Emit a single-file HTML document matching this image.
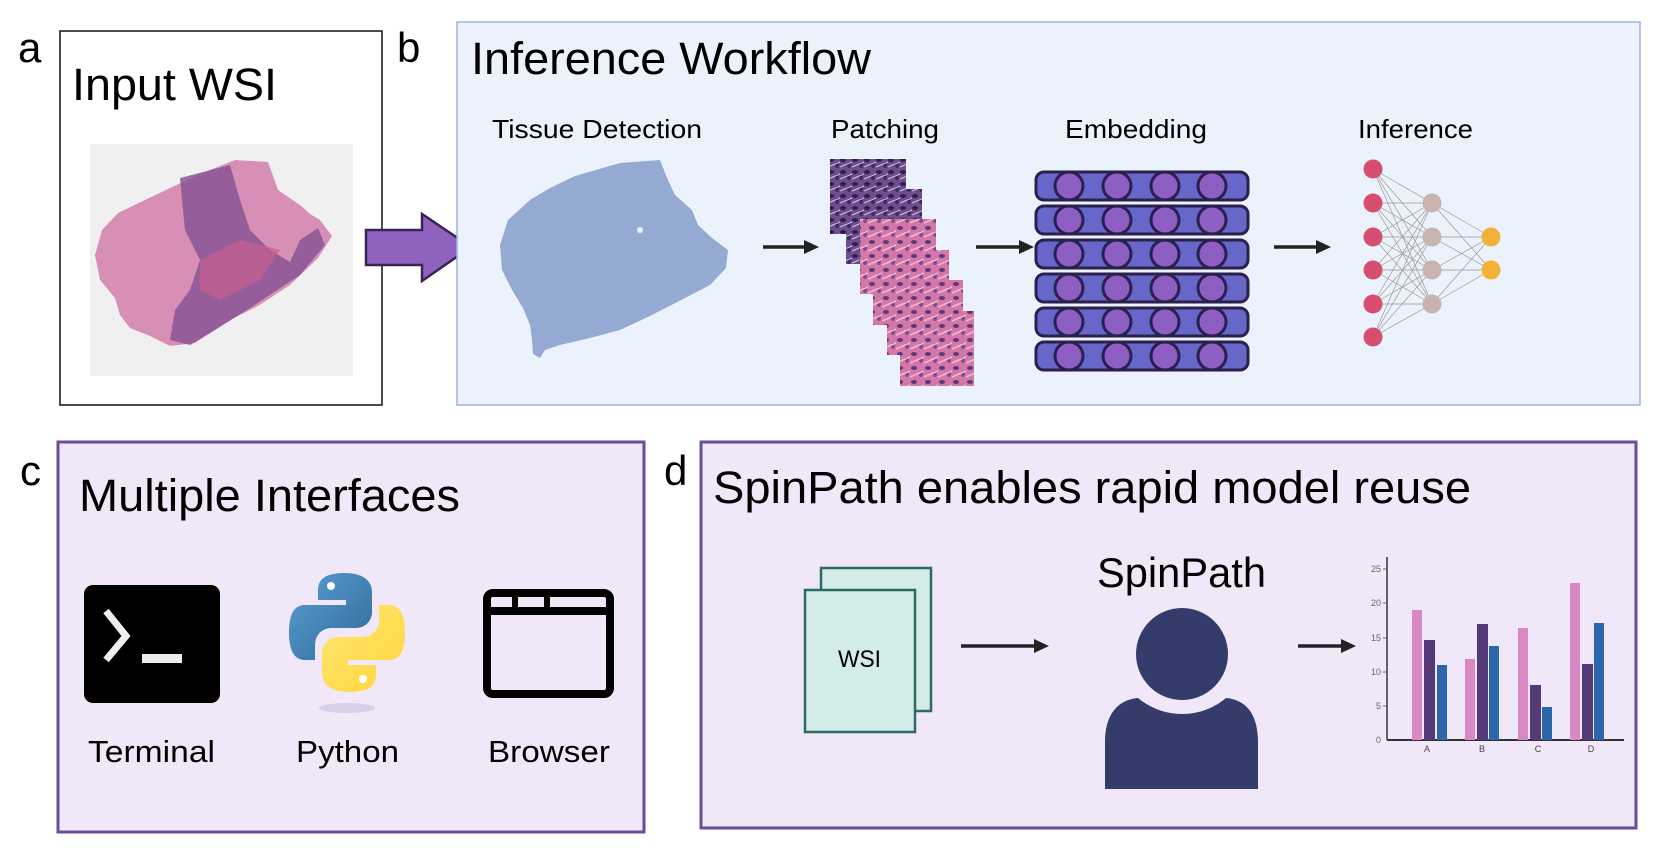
<!DOCTYPE html>
<html><head><meta charset="utf-8"><style>
html,body{margin:0;padding:0;background:#fff}
svg{display:block;font-family:"Liberation Sans",sans-serif}
</style></head><body>
<svg width="1661" height="855" viewBox="0 0 1661 855" xmlns="http://www.w3.org/2000/svg">
<defs>
<marker id="ah" markerWidth="16" markerHeight="16" refX="0" refY="8" orient="auto" markerUnits="userSpaceOnUse"><path d="M0,1 L15,8 L0,15 z" fill="#222"/></marker>
<linearGradient id="pyb" x1="0" y1="0" x2="1" y2="1"><stop offset="0" stop-color="#5a9fd4"/><stop offset="1" stop-color="#306998"/></linearGradient>
<linearGradient id="pyy" x1="0" y1="0" x2="1" y2="1"><stop offset="0" stop-color="#ffe873"/><stop offset="1" stop-color="#ffd43b"/></linearGradient>
<pattern id="tex" width="14" height="14" patternUnits="userSpaceOnUse"><rect width="14" height="14" fill="#d476a8"/><ellipse cx="4" cy="4" rx="3" ry="2" fill="#5a3a7a"/><ellipse cx="11" cy="10" rx="2" ry="3" fill="#7a4a8a"/><path d="M0,13 L14,7" stroke="#f0b8d0" stroke-width="1.5"/></pattern>
<pattern id="tex2" width="12" height="12" patternUnits="userSpaceOnUse"><rect width="12" height="12" fill="#6e4c8e"/><ellipse cx="3" cy="4" rx="3" ry="2" fill="#2e1f4a"/><ellipse cx="9" cy="9" rx="2" ry="3" fill="#3a2a5a"/><path d="M0,11 L12,6" stroke="#d8c8e8" stroke-width="1"/></pattern>
</defs>

<!-- panel a -->
<text x="18" y="62" font-size="42">a</text>
<rect x="60" y="31" width="322" height="374" fill="#fff" stroke="#111" stroke-width="1.5"/>
<text x="72" y="100" font-size="45" textLength="205" lengthAdjust="spacingAndGlyphs">Input WSI</text>
<rect x="90" y="144" width="263" height="232" fill="#f0f0f0"/>
<path d="M118,213 L170,188 L205,172 L235,160 L268,162 L278,190 L300,205 L310,214 L320,220 L332,236 L318,258 L290,285 L258,306 L230,320 L195,343 L170,346 L150,336 L130,328 L120,315 L115,298 L100,280 L95,255 L102,230 Z" fill="#d78fb6"/>
<path d="M180,178 L230,165 L240,200 L250,230 L270,250 L290,262 L300,240 L318,228 L325,245 L300,275 L250,308 L215,330 L190,345 L170,340 L175,310 L190,290 L200,260 L185,230 L182,200 Z" fill="#8a5595" opacity="0.85"/>
<path d="M200,260 L240,240 L280,250 L260,280 L220,300 L200,290 Z" fill="#c8608e" opacity="0.7"/>

<!-- big purple arrow -->
<path d="M366,230 L422,230 L422,214 L471,247 L422,281 L422,265 L366,265 Z" fill="#8e62be" stroke="#3b2257" stroke-width="2.5"/>

<!-- panel b -->
<text x="397" y="62" font-size="42">b</text>
<rect x="457" y="22" width="1183" height="383" fill="#ecf2fb" stroke="#9fb3dc" stroke-width="1.5"/>
<text x="471" y="74" font-size="45" textLength="400" lengthAdjust="spacingAndGlyphs">Inference Workflow</text>
<text x="492" y="138" font-size="26" textLength="210" lengthAdjust="spacingAndGlyphs">Tissue Detection</text>
<text x="831" y="138" font-size="26" textLength="108" lengthAdjust="spacingAndGlyphs">Patching</text>
<text x="1065" y="138" font-size="26" textLength="142" lengthAdjust="spacingAndGlyphs">Embedding</text>
<text x="1358" y="138" font-size="26" textLength="115" lengthAdjust="spacingAndGlyphs">Inference</text>

<path d="M575,176 L620,163 L660,160 L667,178 L675,195 L692,210 L698,225 L712,238 L728,250 L726,268 L710,285 L685,298 L652,315 L620,330 L590,338 L560,345 L545,350 L540,358 L533,354 L532,340 L530,325 L523,308 L512,290 L502,270 L500,245 L508,220 L530,200 L550,188 Z" fill="#95aad3"/>
<ellipse cx="640" cy="230" rx="3" ry="3" fill="#ecf2fb"/>

<line x1="763" y1="247" x2="804" y2="247" stroke="#222" stroke-width="3.5" marker-end="url(#ah)"/>

<!-- patches -->
<rect x="830" y="159" width="76" height="75" fill="url(#tex2)"/>
<rect x="846" y="189" width="76" height="75" fill="url(#tex2)"/>
<rect x="860" y="219" width="76" height="75" fill="url(#tex)"/>
<rect x="873" y="250" width="76" height="75" fill="url(#tex)"/>
<rect x="887" y="280" width="76" height="75" fill="url(#tex)"/>
<rect x="900" y="311" width="74" height="75" fill="url(#tex)"/>

<line x1="976" y1="247" x2="1019" y2="247" stroke="#222" stroke-width="3.5" marker-end="url(#ah)"/>

<!-- embedding -->
<g stroke="#2a1f4d" stroke-width="3">
<g id="row"><rect x="1036" y="172" width="212" height="28" rx="8" fill="#6667c8"/>
<ellipse cx="1069" cy="186" rx="14" ry="14" fill="#8d5fc2"/><ellipse cx="1117" cy="186" rx="14" ry="14" fill="#8d5fc2"/><ellipse cx="1165" cy="186" rx="14" ry="14" fill="#8d5fc2"/><ellipse cx="1212" cy="186" rx="14" ry="14" fill="#8d5fc2"/></g>
<use href="#row" y="34"/><use href="#row" y="68"/><use href="#row" y="102"/><use href="#row" y="136"/><use href="#row" y="170"/>
</g>

<line x1="1274" y1="247" x2="1316" y2="247" stroke="#222" stroke-width="3.5" marker-end="url(#ah)"/>

<!-- neural net -->
<g stroke="#999" stroke-width="0.7">
<line x1="1373" y1="169" x2="1432" y2="203"/><line x1="1373" y1="169" x2="1432" y2="237"/><line x1="1373" y1="169" x2="1432" y2="270"/><line x1="1373" y1="169" x2="1432" y2="304"/>
<line x1="1373" y1="203" x2="1432" y2="203"/><line x1="1373" y1="203" x2="1432" y2="237"/><line x1="1373" y1="203" x2="1432" y2="270"/><line x1="1373" y1="203" x2="1432" y2="304"/>
<line x1="1373" y1="237" x2="1432" y2="203"/><line x1="1373" y1="237" x2="1432" y2="237"/><line x1="1373" y1="237" x2="1432" y2="270"/><line x1="1373" y1="237" x2="1432" y2="304"/>
<line x1="1373" y1="270" x2="1432" y2="203"/><line x1="1373" y1="270" x2="1432" y2="237"/><line x1="1373" y1="270" x2="1432" y2="270"/><line x1="1373" y1="270" x2="1432" y2="304"/>
<line x1="1373" y1="304" x2="1432" y2="203"/><line x1="1373" y1="304" x2="1432" y2="237"/><line x1="1373" y1="304" x2="1432" y2="270"/><line x1="1373" y1="304" x2="1432" y2="304"/>
<line x1="1373" y1="337" x2="1432" y2="203"/><line x1="1373" y1="337" x2="1432" y2="237"/><line x1="1373" y1="337" x2="1432" y2="270"/><line x1="1373" y1="337" x2="1432" y2="304"/>
<line x1="1432" y1="203" x2="1491" y2="237"/><line x1="1432" y1="203" x2="1491" y2="270"/>
<line x1="1432" y1="237" x2="1491" y2="237"/><line x1="1432" y1="237" x2="1491" y2="270"/>
<line x1="1432" y1="270" x2="1491" y2="237"/><line x1="1432" y1="270" x2="1491" y2="270"/>
<line x1="1432" y1="304" x2="1491" y2="237"/><line x1="1432" y1="304" x2="1491" y2="270"/>
</g>
<g fill="#d64f70"><circle cx="1373" cy="169" r="9.5"/><circle cx="1373" cy="203" r="9.5"/><circle cx="1373" cy="237" r="9.5"/><circle cx="1373" cy="270" r="9.5"/><circle cx="1373" cy="304" r="9.5"/><circle cx="1373" cy="337" r="9.5"/></g>
<g fill="#c8b3ae"><circle cx="1432" cy="203" r="9.5"/><circle cx="1432" cy="237" r="9.5"/><circle cx="1432" cy="270" r="9.5"/><circle cx="1432" cy="304" r="9.5"/></g>
<g fill="#f2b23a"><circle cx="1491" cy="237" r="9.5"/><circle cx="1491" cy="270" r="9.5"/></g>

<!-- panel c -->
<text x="20" y="485" font-size="42">c</text>
<rect x="58" y="442" width="586" height="390" fill="#f0e8f9" stroke="#6b4c9a" stroke-width="3"/>
<text x="79" y="511" font-size="45" textLength="381" lengthAdjust="spacingAndGlyphs">Multiple Interfaces</text>
<rect x="84" y="585" width="136" height="118" rx="9" fill="#000"/>
<path d="M106,611 L126,636 L106,660" fill="none" stroke="#eee" stroke-width="7"/>
<rect x="142" y="654" width="40" height="9" fill="#eee"/>
<!-- python -->
<ellipse cx="347" cy="708" rx="28" ry="5" fill="#d8d0e6"/>
<path d="M345,573 C320,573 318,583 318,592 L318,600 L346,600 L346,605 L305,605 C292,605 289,618 289,633 C289,648 293,660 305,660 L315,660 L315,645 C315,635 322,628 332,628 L356,628 C365,628 372,621 372,612 L372,592 C372,580 362,573 345,573 Z" fill="url(#pyb)"/>
<circle cx="331" cy="586" r="4" fill="#fff"/>
<path d="M349,692 C374,692 376,682 376,673 L376,665 L348,665 L348,660 L389,660 C402,660 405,647 405,632 C405,617 401,605 389,605 L379,605 L379,620 C379,630 372,637 362,637 L338,637 C329,637 322,644 322,653 L322,673 C322,685 332,692 349,692 Z" fill="url(#pyy)"/>
<circle cx="363" cy="679" r="4" fill="#fff"/>
<!-- browser -->
<rect x="487" y="593" width="123" height="101" rx="6" fill="none" stroke="#000" stroke-width="8"/>
<line x1="487" y1="611" x2="610" y2="611" stroke="#000" stroke-width="8"/>
<line x1="515" y1="593" x2="515" y2="611" stroke="#000" stroke-width="6"/>
<line x1="547" y1="593" x2="547" y2="611" stroke="#000" stroke-width="6"/>
<text x="88" y="762" font-size="31" textLength="127" lengthAdjust="spacingAndGlyphs">Terminal</text>
<text x="296" y="762" font-size="31" textLength="103" lengthAdjust="spacingAndGlyphs">Python</text>
<text x="488" y="762" font-size="31" textLength="122" lengthAdjust="spacingAndGlyphs">Browser</text>

<!-- panel d -->
<text x="664" y="485" font-size="42">d</text>
<rect x="701" y="442" width="935" height="386" fill="#f0e8f9" stroke="#6b4c9a" stroke-width="3"/>
<text x="713" y="503" font-size="45" textLength="758" lengthAdjust="spacingAndGlyphs">SpinPath enables rapid model reuse</text>
<rect x="821" y="568" width="110" height="143" fill="#d3ece8" stroke="#2d6b5e" stroke-width="2.5"/>
<rect x="805" y="590" width="110" height="142" fill="#d3ece8" stroke="#2d6b5e" stroke-width="2.5"/>
<text x="838" y="667" font-size="24" textLength="43" lengthAdjust="spacingAndGlyphs">WSI</text>
<line x1="961" y1="646" x2="1034" y2="646" stroke="#222" stroke-width="3.5" marker-end="url(#ah)"/>
<text x="1097" y="587" font-size="42" textLength="169" lengthAdjust="spacingAndGlyphs">SpinPath</text>
<ellipse cx="1182" cy="654" rx="46" ry="46" fill="#353b6b"/>
<path d="M1105,789 L1105,742 C1105,718 1115,700 1138,698 C1150,708 1165,714 1182,714 C1199,714 1214,708 1226,698 C1249,700 1258,718 1258,742 L1258,789 Z" fill="#353b6b"/>
<line x1="1298" y1="646" x2="1341" y2="646" stroke="#222" stroke-width="3.5" marker-end="url(#ah)"/>
<!-- chart -->
<g font-size="9" fill="#666" text-anchor="end">
<line x1="1387" y1="557" x2="1387" y2="740" stroke="#333" stroke-width="1.5"/>
<line x1="1387" y1="740" x2="1624" y2="740" stroke="#333" stroke-width="2"/>
<text x="1381" y="743">0</text><text x="1381" y="709">5</text><text x="1381" y="675">10</text><text x="1381" y="641">15</text><text x="1381" y="606">20</text><text x="1381" y="572">25</text>
<g stroke="#666" stroke-width="1"><line x1="1383" y1="706" x2="1387" y2="706"/><line x1="1383" y1="672" x2="1387" y2="672"/><line x1="1383" y1="638" x2="1387" y2="638"/><line x1="1383" y1="603" x2="1387" y2="603"/><line x1="1383" y1="569" x2="1387" y2="569"/></g>
</g>
<g>
<rect x="1412" y="610" width="10" height="130" fill="#d889c4"/><rect x="1424" y="640" width="11" height="100" fill="#553a7a"/><rect x="1437" y="665" width="10" height="75" fill="#2c67ad"/>
<rect x="1465" y="659" width="10" height="81" fill="#d889c4"/><rect x="1477" y="624" width="11" height="116" fill="#553a7a"/><rect x="1489" y="646" width="10" height="94" fill="#2c67ad"/>
<rect x="1518" y="628" width="10" height="112" fill="#d889c4"/><rect x="1530" y="685" width="11" height="55" fill="#553a7a"/><rect x="1542" y="707" width="10" height="33" fill="#2c67ad"/>
<rect x="1570" y="583" width="10" height="157" fill="#d889c4"/><rect x="1582" y="664" width="11" height="76" fill="#553a7a"/><rect x="1594" y="623" width="10" height="117" fill="#2c67ad"/>
</g>
<g font-size="9" fill="#444" text-anchor="middle"><text x="1427" y="752">A</text><text x="1482" y="752">B</text><text x="1538" y="752">C</text><text x="1591" y="752">D</text></g>
</svg>
</body></html>
